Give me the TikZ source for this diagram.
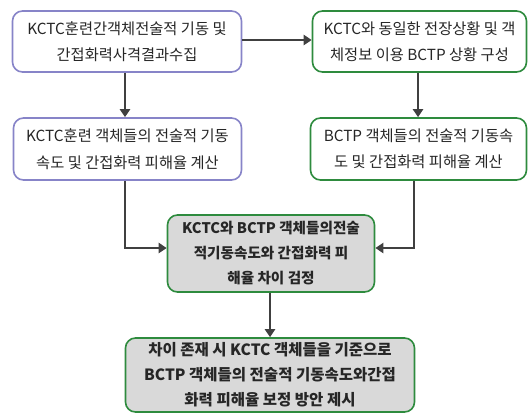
\documentclass[tikz,border=0pt]{standalone}
\usepackage{fontspec}
\newfontfamily\kr{Noto Sans CJK KR}
\usetikzlibrary{arrows.meta}
\definecolor{purp}{RGB}{135,132,200}
\definecolor{grn}{RGB}{46,139,62}
\definecolor{fillg}{RGB}{217,217,217}
\definecolor{txt}{RGB}{38,38,38}
\definecolor{arr}{RGB}{64,64,64}
\tikzset{
  box/.style={draw, line width=1.6pt, rounded corners=10pt, align=center, inner sep=0pt, text=txt},
  pbox/.style={box, draw=purp, fill=white, font=\kr\fontsize{15.3}{26.5}\selectfont},
  gbox/.style={box, draw=grn, fill=white, font=\kr\fontsize{15.3}{26.5}\selectfont},
  sbox/.style={box, draw=grn, fill=fillg, font=\kr\bfseries\fontsize{14.6}{25}\selectfont},
  conn/.style={draw=arr, line width=2.6pt, -{Triangle[width=10pt,length=8pt]}}
}
\begin{document}
\begin{tikzpicture}[x=1pt,y=-1pt]
\useasboundingbox (0,0) rectangle (529,415);
\node[pbox, minimum width=229pt, minimum height=61pt] (b1) at (127,41.5)
  {KCTC훈련간객체전술적 기동 및\\간접화력사격결과수집};
\node[gbox, minimum width=214pt, minimum height=61pt] (b2) at (419.5,41.5)
  {KCTC와 동일한 전장상황 및 객\\체정보 이용 BCTP 상황 구성};
\node[pbox, minimum width=228pt, minimum height=62pt] (b3) at (127.5,149)
  {KCTC훈련 객체들의 전술적 기동\\속도 및 간접화력 피해율 계산};
\node[gbox, minimum width=216pt, minimum height=62pt] (b4) at (418.5,149)
  {BCTP 객체들의 전술적 기동속\\도 및 간접화력 피해율 계산};
\node[sbox, minimum width=207pt, minimum height=77pt] (b5) at (271,253.5)
  {KCTC와 BCTP 객체들의전술\\적기동속도와 간접화력 피\\해율 차이 검정};
\node[sbox, minimum width=289pt, minimum height=74pt, font=\kr\bfseries\fontsize{15.5}{25}\selectfont] (b6) at (270,375)
  {차이 존재 시 KCTC 객체들을 기준으로\\BCTP 객체들의 전술적 기동속도와간접\\화력 피해율 보정 방안 제시};
\coordinate (c3) at (125,248);
\coordinate (c4) at (414,248);
\draw[conn] (b1.east |- 0,40) -- (b2.west |- 0,40);
\draw[conn] (b1.south -| 125,0) -- (b3.north -| 125,0);
\draw[conn] (b2.south -| 418,0) -- (b4.north -| 418,0);
\draw[conn] (b3.south -| c3) -- (c3) -- (b5.west |- c3);
\draw[conn] (b4.south -| c4) -- (c4) -- (b5.east |- c4);
\draw[conn] (b5.south -| 270,0) -- (b6.north -| 270,0);
\end{tikzpicture}
\end{document}
